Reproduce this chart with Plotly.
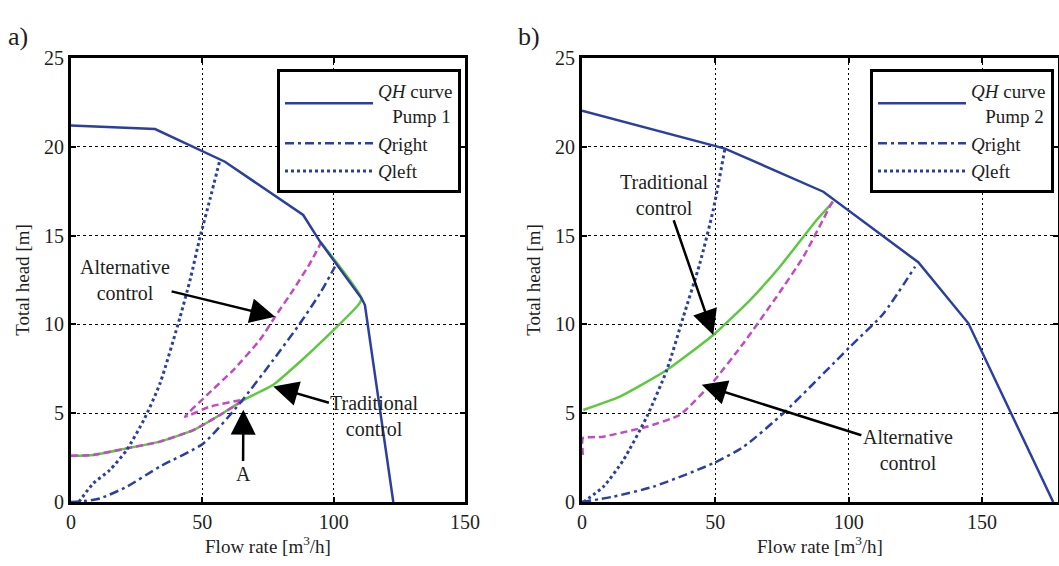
import plotly.graph_objects as go

# ---- Pump 1 (panel a) ----
a_qh_q = [0, 32, 58.6, 88.4, 94.8, 110.6, 111.9, 122.7]
a_qh_h = [21.2, 21.0, 19.16, 16.16, 14.66, 11.47, 11.09, 0]

a_left_q = [3, 8.5, 14.8, 21.2, 28, 33.9, 41.5, 45.5, 49.1, 53, 56.7]
a_left_h = [0, 1.05, 1.8, 2.93, 4.7, 6.68, 10.4, 12.6, 14.9, 17.1, 19.26]

a_right_q = [0, 5, 11, 21.2, 33.9, 50.4, 64.3, 77, 87.2, 94.8, 100.5]
a_right_h = [0, 0.05, 0.2, 0.86, 2.0, 3.3, 5.56, 8.0, 10.06, 11.75, 13.25]

a_trad_q = [0, 8.5, 21.2, 33.9, 46.6, 56.7, 65.6, 77, 87.2, 97.3, 109.4, 110.6, 95.4]
a_trad_h = [2.6, 2.65, 3.02, 3.4, 4.05, 4.9, 5.74, 6.6, 7.9, 9.3, 11.1, 11.47, 14.57]

a_alt_q = [0, 8.5, 21.2, 33.9, 46.6, 56.7, 65.6, 52.9, 43.4, 51.6, 61.8, 71.9, 77.7, 84.6, 91, 95.4]
a_alt_h = [2.6, 2.65, 3.02, 3.4, 4.05, 4.9, 5.74, 5.37, 4.8, 6.0, 7.43, 9.12, 10.43, 11.94, 13.44, 14.66]

# ---- Pump 2 (panel b) ----
b_qh_q = [0, 53.6, 90.5, 126.1, 144.9, 176.7]
b_qh_h = [22.03, 19.9, 17.47, 13.5, 10.06, 0]

b_left_q = [0.5, 8, 15.5, 24.3, 31.8, 38, 44.2, 49.2, 53.6]
b_left_h = [0, 0.86, 2.36, 4.8, 7.43, 10.43, 13.44, 16.44, 19.9]

b_right_q = [0, 11.7, 26.7, 49.2, 60.5, 75.5, 100.5, 113, 124.9]
b_right_h = [0, 0.3, 0.86, 2.18, 3.1, 5.0, 8.74, 10.6, 13.25]

b_trad_q = [0.5, 14.2, 31.8, 49.2, 63, 74.2, 88, 94.2]
b_trad_h = [5.18, 5.93, 7.43, 9.4, 11.37, 13.25, 15.88, 16.9]

b_alt_q = [0.3, 0.3, 8, 24.3, 36.7, 49.2, 60.5, 73, 83, 94.2]
b_alt_h = [2.65, 3.59, 3.68, 4.24, 4.9, 6.77, 8.93, 11.56, 13.8, 17.0]

x_ticks = [0, 50, 100, 150]
y_ticks = [0, 5, 10, 15, 20, 25]

BLUE = "#2b3f9f"
GREEN = "#5ec840"
PINK = "#c24ac2"
INK = "#1e1e1e"
FONT = "Liberation Serif, Times New Roman, serif"

fig = go.Figure()


def add_panel(xa, ya, leg, qh, left, right, trad, alt, pump):
    fig.add_trace(go.Scatter(x=trad[0], y=trad[1], mode="lines", xaxis=xa, yaxis=ya,
                             line=dict(color=GREEN, width=2.5, shape="spline", smoothing=0.5),
                             showlegend=False))
    fig.add_trace(go.Scatter(x=alt[0], y=alt[1], mode="lines", xaxis=xa, yaxis=ya,
                             line=dict(color=PINK, width=2.5, dash="7px,4px",
                                       shape="spline", smoothing=0.4),
                             showlegend=False))
    fig.add_trace(go.Scatter(x=qh[0], y=qh[1], mode="lines", xaxis=xa, yaxis=ya, legend=leg,
                             name="<i>QH</i> curve<br>   Pump %d" % pump,
                             line=dict(color=BLUE, width=2.5)))
    fig.add_trace(go.Scatter(x=right[0], y=right[1], mode="lines", xaxis=xa, yaxis=ya, legend=leg,
                             name="<i>Q</i>right",
                             line=dict(color=BLUE, width=2.5, dash="9px,4px,3px,4px",
                                       shape="spline", smoothing=0.6)))
    fig.add_trace(go.Scatter(x=left[0], y=left[1], mode="lines", xaxis=xa, yaxis=ya, legend=leg,
                             name="<i>Q</i>left",
                             line=dict(color=BLUE, width=3, dash="3px,3px",
                                       shape="spline", smoothing=0.6)))


add_panel("x", "y", "legend", (a_qh_q, a_qh_h), (a_left_q, a_left_h), (a_right_q, a_right_h),
          (a_trad_q, a_trad_h), (a_alt_q, a_alt_h), 1)
add_panel("x2", "y2", "legend2", (b_qh_q, b_qh_h), (b_left_q, b_left_h), (b_right_q, b_right_h),
          (b_trad_q, b_trad_h), (b_alt_q, b_alt_h), 2)

ydom = [(566 - 502) / 566, (566 - 58) / 566]

axis_common = dict(
    showline=True, linecolor="black", linewidth=3, mirror="ticks",
    ticks="inside", ticklen=5, tickwidth=1.5, tickcolor="black",
    showgrid=True, gridcolor="black", gridwidth=1, automargin=False,
    zeroline=False, tickfont=dict(family=FONT, size=20, color=INK),
)

xtitle = dict(text="Flow rate [m<sup>3</sup>/h]", font=dict(family=FONT, size=19, color=INK), standoff=8)
ytitle = dict(text="Total head [m]", font=dict(family=FONT, size=19, color=INK), standoff=10)

legend_style = dict(y=(566 - 69) / 566, xanchor="right", yanchor="top",
                    bgcolor="white", bordercolor="black", borderwidth=3,
                    font=dict(family=FONT, size=19, color=INK), itemwidth=88,
                    tracegroupgap=0)

fig.update_layout(
    width=1059, height=566,
    margin=dict(l=0, r=0, t=0, b=0),
    paper_bgcolor="white", plot_bgcolor="white",
    font=dict(family=FONT, color=INK),
    xaxis=dict(domain=[71 / 1059, 465 / 1059], range=[0, 150], tickvals=x_ticks,
               griddash="2px,3px", title=xtitle, anchor="y", **axis_common),
    yaxis=dict(domain=ydom, range=[0, 25], tickvals=y_ticks, griddash="3px,3px",
               title=ytitle, anchor="x", **axis_common),
    xaxis2=dict(domain=[582 / 1059, 1058 / 1059], range=[0, 178.5], tickvals=x_ticks,
                griddash="2px,3px", title=xtitle, anchor="y2", **axis_common),
    yaxis2=dict(domain=ydom, range=[0, 25], tickvals=y_ticks, griddash="3px,3px",
                title=ytitle, anchor="x2", **axis_common),
    legend=dict(x=461 / 1059, **legend_style),
    legend2=dict(x=1054 / 1059, **legend_style),
)

ann_font = dict(family=FONT, size=20, color=INK)


def pointer(xr, yr, tx, ty, hx, hy, text):
    # text box centred at (tx, ty) with an arrow running to (hx, hy)
    fig.add_annotation(xref=xr, yref=yr, axref=xr, ayref=yr, ax=tx, ay=ty, x=hx, y=hy,
                       text=text, showarrow=True, arrowhead=2, arrowsize=2,
                       arrowwidth=2.5, arrowcolor="black", standoff=0,
                       font=ann_font, align="center")


# panel a
pointer("x", "y", 20.6, 12.5, 77.7, 10.43, "Alternative<br>control")
pointer("x", "y", 115.7, 4.84, 77, 6.5, "Traditional<br>control")
pointer("x", "y", 65.5, 1.6, 65.6, 5.2, "A")

# panel b
pointer("x2", "y2", 31.1, 17.3, 49.2, 9.4, "Traditional<br>control")
pointer("x2", "y2", 122.2, 2.93, 44.9, 6.6, "Alternative<br>control")

# panel letters
fig.add_annotation(xref="paper", yref="paper", x=6 / 1059, y=1 - 20 / 566, text="a)",
                   showarrow=False, xanchor="left", font=dict(family=FONT, size=26, color=INK))
fig.add_annotation(xref="paper", yref="paper", x=516 / 1059, y=1 - 20 / 566, text="b)",
                   showarrow=False, xanchor="left", font=dict(family=FONT, size=26, color=INK))

fig.write_html("out.html")
